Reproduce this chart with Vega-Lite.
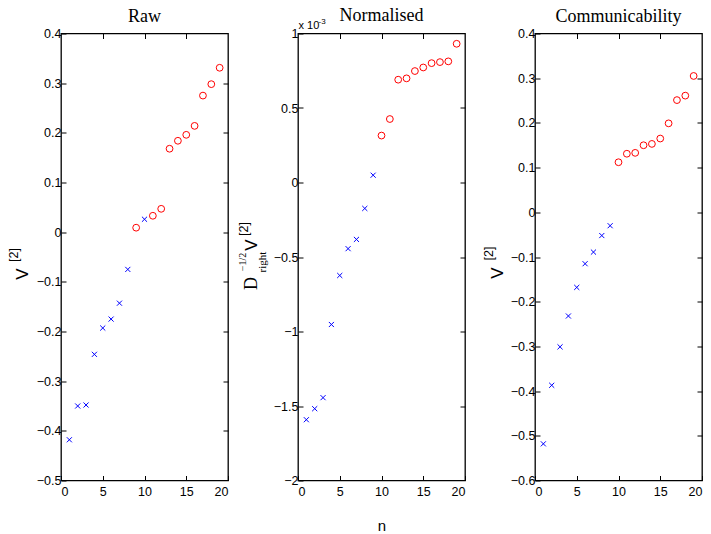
{
"$schema":"https://vega.github.io/schema/vega-lite/v6.json",
"background":"white",
"padding":{"left":6,"top":5.5,"right":5,"bottom":0},
"bounds":"flush",
"spacing":70,
"datasets":{
"raw":[{"n":1,"v":-0.418,"g":"x"},{"n":2,"v":-0.350,"g":"x"},{"n":3,"v":-0.348,"g":"x"},{"n":4,"v":-0.246,"g":"x"},{"n":5,"v":-0.193,"g":"x"},{"n":6,"v":-0.175,"g":"x"},{"n":7,"v":-0.143,"g":"x"},{"n":8,"v":-0.075,"g":"x"},{"n":9,"v":0.009,"g":"o"},{"n":10,"v":0.026,"g":"x"},{"n":11,"v":0.033,"g":"o"},{"n":12,"v":0.047,"g":"o"},{"n":13,"v":0.168,"g":"o"},{"n":14,"v":0.184,"g":"o"},{"n":15,"v":0.196,"g":"o"},{"n":16,"v":0.214,"g":"o"},{"n":17,"v":0.275,"g":"o"},{"n":18,"v":0.298,"g":"o"},{"n":19,"v":0.331,"g":"o"}],
"norm":[{"n":1,"v":-1.592,"g":"x"},{"n":2,"v":-1.518,"g":"x"},{"n":3,"v":-1.444,"g":"x"},{"n":4,"v":-0.953,"g":"x"},{"n":5,"v":-0.624,"g":"x"},{"n":6,"v":-0.444,"g":"x"},{"n":7,"v":-0.382,"g":"x"},{"n":8,"v":-0.174,"g":"x"},{"n":9,"v":0.049,"g":"x"},{"n":10,"v":0.315,"g":"o"},{"n":11,"v":0.426,"g":"o"},{"n":12,"v":0.690,"g":"o"},{"n":13,"v":0.699,"g":"o"},{"n":14,"v":0.748,"g":"o"},{"n":15,"v":0.772,"g":"o"},{"n":16,"v":0.801,"g":"o"},{"n":17,"v":0.808,"g":"o"},{"n":18,"v":0.813,"g":"o"},{"n":19,"v":0.931,"g":"o"}],
"comm":[{"n":1,"v":-0.518,"g":"x"},{"n":2,"v":-0.387,"g":"x"},{"n":3,"v":-0.301,"g":"x"},{"n":4,"v":-0.232,"g":"x"},{"n":5,"v":-0.168,"g":"x"},{"n":6,"v":-0.115,"g":"x"},{"n":7,"v":-0.089,"g":"x"},{"n":8,"v":-0.052,"g":"x"},{"n":9,"v":-0.030,"g":"x"},{"n":10,"v":0.112,"g":"o"},{"n":11,"v":0.131,"g":"o"},{"n":12,"v":0.133,"g":"o"},{"n":13,"v":0.150,"g":"o"},{"n":14,"v":0.153,"g":"o"},{"n":15,"v":0.165,"g":"o"},{"n":16,"v":0.199,"g":"o"},{"n":17,"v":0.251,"g":"o"},{"n":18,"v":0.261,"g":"o"},{"n":19,"v":0.305,"g":"o"}]
},
"config":{
"view":{"stroke":"#000","strokeWidth":1.3},
"axis":{"grid":false,"domain":false,"labelFont":"Liberation Sans","labelFontSize":12.5,"labelColor":"#000","tickColor":"#000","tickSize":-5,"tickWidth":1,"titleColor":"#000","titleFont":"Liberation Sans","titleFontWeight":"normal","titlePadding":0},
"axisX":{"labelPadding":10},
"axisY":{"labelPadding":5},
"title":{"font":"Liberation Serif","fontSize":18,"fontWeight":"normal","color":"#000","offset":1.5}
},
"hconcat":[
{
"width":167,"height":447,
"title":{"text":"Raw"},
"data":{"name":"raw"},
"encoding":{
"x":{"field":"n","type":"quantitative","scale":{"domain":[0,20],"nice":false,"zero":false}},
"y":{"field":"v","type":"quantitative","scale":{"domain":[-0.5,0.4],"nice":false,"zero":false}}
},
"layer":[
{"mark":{"type":"point","filled":false,"strokeWidth":1,"opacity":1},
"encoding":{
"x":{"field":"n","type":"quantitative","axis":{"orient":"bottom","values":[0,5,10,15,20],"title":null}},
"y":{"field":"v","type":"quantitative","axis":{"orient":"left","values":[-0.5,-0.4,-0.3,-0.2,-0.1,0,0.1,0.2,0.3,0.4],"format":"~g","title":"V","titleFontSize":17,"titleX":-34,"titleY":240,"titleAngle":270,"titleBaseline":"alphabetic","titleAlign":"center"}},
"color":{"field":"g","type":"nominal","scale":{"domain":["x","o"],"range":["#0000ff","#ff0000"]},"legend":null},
"shape":{"field":"g","type":"nominal","scale":{"domain":["x","o"],"range":["M-1,-1L1,1M-1,1L1,-1","circle"]},"legend":null},
"size":{"condition":{"test":"datum.g == 'o'","value":46},"value":26}
}},
{"mark":{"type":"point","opacity":0},
"encoding":{
"x":{"field":"n","type":"quantitative","axis":{"orient":"top","values":[5,10,15],"labels":false,"title":null}},
"y":{"field":"v","type":"quantitative","axis":{"orient":"right","values":[-0.4,-0.3,-0.2,-0.1,0,0.1,0.2,0.3],"labels":false,"title":null}}
}},
{"mark":{"type":"point","opacity":0},
"encoding":{
"x":{"field":"n","type":"quantitative","axis":null},
"y":{"field":"v","type":"quantitative","axis":{"orient":"left","labels":false,"ticks":false,"title":"[2]","titleFontSize":12.5,"titleX":-44,"titleY":221,"titleAngle":270,"titleBaseline":"alphabetic","titleAlign":"center"}}
}}
],
"resolve":{"axis":{"x":"independent","y":"independent"}}
},
{
"width":167,"height":447,
"title":{"text":"Normalised","offset":-7.5},
"data":{"name":"norm"},
"encoding":{
"x":{"field":"n","type":"quantitative","scale":{"domain":[0,20],"nice":false,"zero":false}},
"y":{"field":"v","type":"quantitative","scale":{"domain":[-2,1],"nice":false,"zero":false}}
},
"layer":[
{"mark":{"type":"point","filled":false,"strokeWidth":1,"opacity":1},
"encoding":{
"x":{"field":"n","type":"quantitative","axis":{"orient":"bottom","values":[0,5,10,15,20],"title":"n","titleFontSize":15,"titleX":83.5,"titleY":50,"titleBaseline":"alphabetic","titleAlign":"center"}},
"y":{"field":"v","type":"quantitative","axis":{"orient":"left","values":[-2,-1.5,-1,-0.5,0,0.5,1],"format":"~g","title":"D","titleFont":"Liberation Serif","titleFontSize":18,"titleX":-42,"titleY":249.5,"titleAngle":270,"titleBaseline":"alphabetic","titleAlign":"center"}},
"color":{"field":"g","type":"nominal","scale":{"domain":["x","o"],"range":["#0000ff","#ff0000"]},"legend":null},
"shape":{"field":"g","type":"nominal","scale":{"domain":["x","o"],"range":["M-1,-1L1,1M-1,1L1,-1","circle"]},"legend":null},
"size":{"condition":{"test":"datum.g == 'o'","value":46},"value":26}
}},
{"mark":{"type":"point","opacity":0},
"encoding":{
"x":{"field":"n","type":"quantitative","axis":{"orient":"top","values":[5,10,15],"labels":false,"title":"x 10","titleFontSize":11,"titleX":0,"titleY":-5.5,"titleBaseline":"alphabetic","titleAlign":"left","titleAnchor":"start"}},
"y":{"field":"v","type":"quantitative","axis":{"orient":"right","values":[-1.5,-1,-0.5,0,0.5],"labels":false,"title":null}}
}},
{"mark":{"type":"point","opacity":0},
"encoding":{
"x":{"field":"n","type":"quantitative","axis":{"orient":"top","labels":false,"ticks":false,"title":"-3","titleFontSize":8,"titleX":20,"titleY":-10,"titleBaseline":"alphabetic","titleAlign":"left","titleAnchor":"start"}},
"y":{"field":"v","type":"quantitative","axis":{"orient":"left","labels":false,"ticks":false,"title":"V","titleFontSize":17,"titleX":-42,"titleY":211,"titleAngle":270,"titleBaseline":"alphabetic","titleAlign":"center"}}
}},
{"mark":{"type":"point","opacity":0},
"encoding":{
"x":{"field":"n","type":"quantitative","axis":null},
"y":{"field":"v","type":"quantitative","axis":{"orient":"left","labels":false,"ticks":false,"title":"right","titleFont":"Liberation Serif","titleFontSize":11,"titleX":-33,"titleY":228,"titleAngle":270,"titleBaseline":"alphabetic","titleAlign":"center"}}
}},
{"mark":{"type":"point","opacity":0},
"encoding":{
"x":{"field":"n","type":"quantitative","axis":null},
"y":{"field":"v","type":"quantitative","axis":{"orient":"left","labels":false,"ticks":false,"title":"−1/2","titleFont":"Liberation Serif","titleFontSize":10,"titleX":-53,"titleY":228,"titleAngle":270,"titleBaseline":"alphabetic","titleAlign":"center"}}
}},
{"mark":{"type":"point","opacity":0},
"encoding":{
"x":{"field":"n","type":"quantitative","axis":null},
"y":{"field":"v","type":"quantitative","axis":{"orient":"left","labels":false,"ticks":false,"title":"[2]","titleFontSize":12.5,"titleX":-51,"titleY":195,"titleAngle":270,"titleBaseline":"alphabetic","titleAlign":"center"}}
}}
],
"resolve":{"axis":{"x":"independent","y":"independent"}}
},
{
"width":167,"height":447,
"title":{"text":"Communicability"},
"data":{"name":"comm"},
"encoding":{
"x":{"field":"n","type":"quantitative","scale":{"domain":[0,20],"nice":false,"zero":false}},
"y":{"field":"v","type":"quantitative","scale":{"domain":[-0.6,0.4],"nice":false,"zero":false}}
},
"layer":[
{"mark":{"type":"point","filled":false,"strokeWidth":1,"opacity":1},
"encoding":{
"x":{"field":"n","type":"quantitative","axis":{"orient":"bottom","values":[0,5,10,15,20],"title":null}},
"y":{"field":"v","type":"quantitative","axis":{"orient":"left","values":[-0.6,-0.5,-0.4,-0.3,-0.2,-0.1,0,0.1,0.2,0.3,0.4],"format":"~g","title":"V","titleFontSize":17,"titleX":-33,"titleY":239,"titleAngle":270,"titleBaseline":"alphabetic","titleAlign":"center"}},
"color":{"field":"g","type":"nominal","scale":{"domain":["x","o"],"range":["#0000ff","#ff0000"]},"legend":null},
"shape":{"field":"g","type":"nominal","scale":{"domain":["x","o"],"range":["M-1,-1L1,1M-1,1L1,-1","circle"]},"legend":null},
"size":{"condition":{"test":"datum.g == 'o'","value":46},"value":26}
}},
{"mark":{"type":"point","opacity":0},
"encoding":{
"x":{"field":"n","type":"quantitative","axis":{"orient":"top","values":[5,10,15],"labels":false,"title":null}},
"y":{"field":"v","type":"quantitative","axis":{"orient":"right","values":[-0.5,-0.4,-0.3,-0.2,-0.1,0,0.1,0.2,0.3],"labels":false,"title":null}}
}},
{"mark":{"type":"point","opacity":0},
"encoding":{
"x":{"field":"n","type":"quantitative","axis":null},
"y":{"field":"v","type":"quantitative","axis":{"orient":"left","labels":false,"ticks":false,"title":"[2]","titleFontSize":12.5,"titleX":-43,"titleY":219.5,"titleAngle":270,"titleBaseline":"alphabetic","titleAlign":"center"}}
}}
],
"resolve":{"axis":{"x":"independent","y":"independent"}}
}
]
}
